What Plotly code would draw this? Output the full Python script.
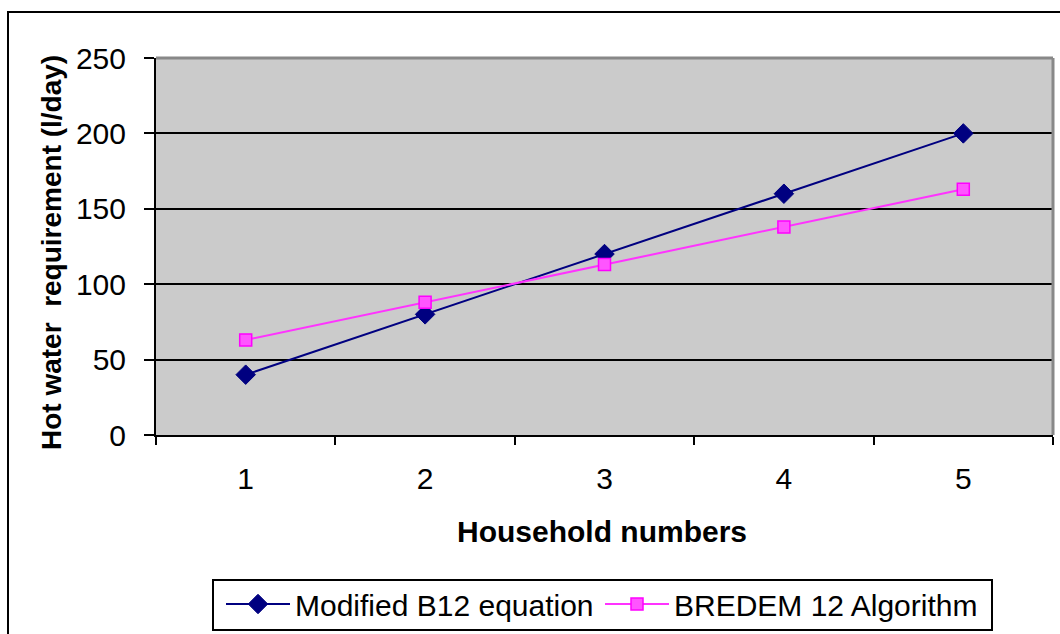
import plotly.graph_objects as go

categories = ["1", "2", "3", "4", "5"]
modified_b12 = [40, 80, 120, 160, 200]
bredem12 = [63, 88, 113, 138, 163]
y_ticks = [0, 50, 100, 150, 200, 250]

W, H = 1060, 634
L, R, T, B = 156, 7, 58, 199
pw, ph = W - L - R, H - T - B

def px(x):
    return (x - L) / pw

def py(y):
    return (H - B - y) / ph

FONT = "Liberation Sans, Arial, sans-serif"

fig = go.Figure()
fig.add_trace(go.Scatter(
    x=categories, y=modified_b12, mode="lines+markers",
    name="Modified B12 equation",
    line=dict(color="#000080", width=2),
    marker=dict(symbol="diamond", size=15, color="#000080", line=dict(color="#000080", width=1)),
))
fig.add_trace(go.Scatter(
    x=categories, y=bredem12, mode="lines+markers",
    name="BREDEM 12 Algorithm",
    line=dict(color="#FF33FF", width=2),
    marker=dict(symbol="square", size=12, color="#FF55FF", line=dict(color="#FF00FF", width=1.5)),
))

fig.update_layout(
    width=W, height=H,
    margin=dict(l=L, r=R, t=T, b=B, pad=0, autoexpand=False),
    paper_bgcolor="white",
    plot_bgcolor="#CBCBCB",
    font=dict(family=FONT, size=30, color="black"),
    showlegend=True,
    legend=dict(
        orientation="h", x=px(221), xanchor="left", y=py(578), yanchor="top",
        borderwidth=0, bgcolor="rgba(0,0,0,0)",
        font=dict(family=FONT, size=30, color="black"),
        itemwidth=64, entrywidth=300, entrywidthmode="pixels",
    ),
    xaxis=dict(
        type="category", range=[-0.5, 4.5], tickson="boundaries", ticks="outside", ticklen=8,
        tickwidth=2, tickcolor="black", showline=True, linecolor="black", linewidth=2,
        showgrid=False, zeroline=False, ticklabelstandoff=16, automargin=False,
        tickfont=dict(family=FONT, size=30),
    ),
    yaxis=dict(
        range=[0, 250], tickvals=y_ticks, ticks="outside", ticklen=10,
        tickwidth=2, tickcolor="black", showline=True, linecolor="black", linewidth=2,
        showgrid=True, gridcolor="black", gridwidth=2, zeroline=False, automargin=False,
        ticklabelstandoff=12, tickfont=dict(family=FONT, size=30),
    ),
    shapes=[
        dict(type="line", xref="paper", yref="paper", x0=0, x1=1, y0=1, y1=1,
             line=dict(color="#888888", width=3)),
        dict(type="line", xref="paper", yref="paper", x0=1, x1=1, y0=0, y1=1,
             line=dict(color="#888888", width=3)),
        dict(type="rect", xref="paper", yref="paper",
             x0=px(8), x1=px(1075), y0=py(660), y1=py(12),
             line=dict(color="black", width=2), fillcolor="rgba(0,0,0,0)"),
        dict(type="rect", xref="paper", yref="paper",
             x0=px(213), x1=px(992), y0=py(630), y1=py(580),
             line=dict(color="black", width=2), fillcolor="rgba(0,0,0,0)"),
    ],
    annotations=[
        dict(text="<b>Household numbers</b>", xref="paper", yref="paper",
             x=px(602), y=py(531), xanchor="center", yanchor="middle",
             showarrow=False, font=dict(family=FONT, size=30)),
        dict(text="<b>Hot water\u00a0 requirement (l/day)</b>", xref="paper", yref="paper",
             x=px(52), y=py(253), xanchor="center", yanchor="middle", textangle=-90,
             showarrow=False, font=dict(family=FONT, size=28)),
    ],
)

fig.write_html("out.html")
